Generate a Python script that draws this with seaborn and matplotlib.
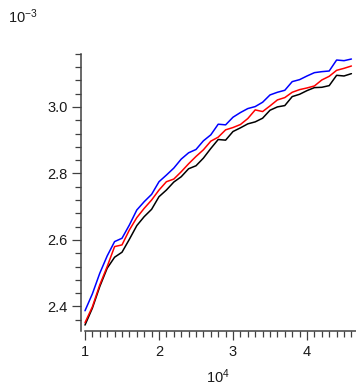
import numpy as np
import pandas as pd
import matplotlib
matplotlib.use("Agg")
import matplotlib.pyplot as plt
from matplotlib.ticker import FixedLocator
import seaborn as sns

# x in units of 10^4, y in units of 10^-3
x_vals = [1.0, 1.1, 1.2, 1.3, 1.4, 1.5, 1.6, 1.7, 1.8, 1.9,
          2.0, 2.1, 2.2, 2.3, 2.4, 2.5, 2.6, 2.7, 2.8, 2.9,
          3.0, 3.1, 3.2, 3.3, 3.4, 3.5, 3.6, 3.7, 3.8, 3.9,
          4.0, 4.1, 4.2, 4.3, 4.4, 4.5, 4.6]

blue_vals = [2.387, 2.438, 2.500, 2.552, 2.595, 2.605, 2.645, 2.690, 2.715, 2.737,
             2.775, 2.795, 2.816, 2.843, 2.862, 2.872, 2.898, 2.916, 2.948, 2.946,
             2.969, 2.983, 2.995, 3.001, 3.014, 3.036, 3.044, 3.050, 3.076, 3.082,
             3.093, 3.103, 3.106, 3.108, 3.141, 3.139, 3.144]

red_vals = [2.351, 2.399, 2.465, 2.520, 2.580, 2.585, 2.630, 2.667, 2.695, 2.720,
            2.750, 2.775, 2.783, 2.805, 2.829, 2.851, 2.871, 2.897, 2.909, 2.931,
            2.938, 2.947, 2.965, 2.991, 2.986, 3.003, 3.021, 3.028, 3.044, 3.052,
            3.057, 3.063, 3.081, 3.092, 3.110, 3.116, 3.123]

black_vals = [2.344, 2.395, 2.460, 2.515, 2.548, 2.563, 2.602, 2.643, 2.670, 2.692,
              2.730, 2.750, 2.774, 2.790, 2.814, 2.823, 2.846, 2.875, 2.902, 2.900,
              2.926, 2.937, 2.949, 2.955, 2.966, 2.990, 3.000, 3.004, 3.031, 3.038,
              3.049, 3.058, 3.059, 3.064, 3.095, 3.093, 3.100]

y_ticks = [2.4, 2.6, 2.8, 3.0]
y_tick_labels = ["2.4", "2.6", "2.8", "3.0"]
x_ticks = [1, 2, 3, 4]
x_tick_labels = ["1", "2", "3", "4"]

df = pd.concat([
    pd.DataFrame({"x": x_vals, "y": black_vals, "series": "black"}),
    pd.DataFrame({"x": x_vals, "y": red_vals, "series": "red"}),
    pd.DataFrame({"x": x_vals, "y": blue_vals, "series": "blue"}),
], ignore_index=True)

sns.set_theme(style="ticks")
plt.rcParams["font.family"] = ["Liberation Sans", "DejaVu Sans"]
plt.rcParams["mathtext.fontset"] = "custom"
plt.rcParams["mathtext.rm"] = "Liberation Sans"
plt.rcParams["mathtext.it"] = "Liberation Sans"

fig = plt.figure(figsize=(3.56, 3.86), dpi=100)
W, H = 356, 386
ax_left_px, ax_right_px = 81, 356
ax_top_px, ax_bot_px = 53.7, 330.7
ax = fig.add_axes([ax_left_px / W, 1 - ax_bot_px / H,
                   (ax_right_px - ax_left_px) / W, (ax_bot_px - ax_top_px) / H])

sns.lineplot(data=df, x="x", y="y", hue="series",
             hue_order=["black", "red", "blue"],
             palette={"black": "#000000", "red": "#ff0000", "blue": "#0000ff"},
             estimator=None, sort=False, linewidth=1.1, legend=False, ax=ax)

ax.set_xlim(0.946, 4.662)
ax.set_ylim(2.327, 3.16)

ax.set_xticks(x_ticks)
ax.set_xticklabels(x_tick_labels)
ax.set_yticks(y_ticks)
ax.set_yticklabels(y_tick_labels)
ax.xaxis.set_minor_locator(FixedLocator(np.round(np.arange(1.0, 4.66, 0.1), 2)))
ax.yaxis.set_minor_locator(FixedLocator(np.round(np.arange(2.36, 3.161, 0.04), 2)))

axis_col = "#404040"
ax.tick_params(axis="both", which="major", length=6.5, width=0.9, color=axis_col,
               labelsize=10.5, labelcolor="#1a1a1a", direction="out")
ax.tick_params(axis="both", which="minor", length=4.3, width=0.9, color=axis_col,
               direction="out")
ax.tick_params(axis="x", which="major", pad=3.5)
ax.tick_params(axis="y", which="major", pad=3.0)

for side in ["top", "right"]:
    ax.spines[side].set_visible(False)
for side in ["left", "bottom"]:
    ax.spines[side].set_color(axis_col)
    ax.spines[side].set_linewidth(1.1)
ax.spines["bottom"].set_bounds(1.0, 4.662)

ax.set_xlabel("")
ax.set_ylabel("")

fig.text(8 / W, 1 - 23.5 / H, r"$10^{-3}$", fontsize=10.5, color="#1a1a1a",
         ha="left", va="baseline")
fig.text(206.5 / W, 1 - 383 / H, r"$10^{4}$", fontsize=10.5, color="#1a1a1a",
         ha="left", va="baseline")

fig.savefig("out.png", dpi=100, facecolor="white")
